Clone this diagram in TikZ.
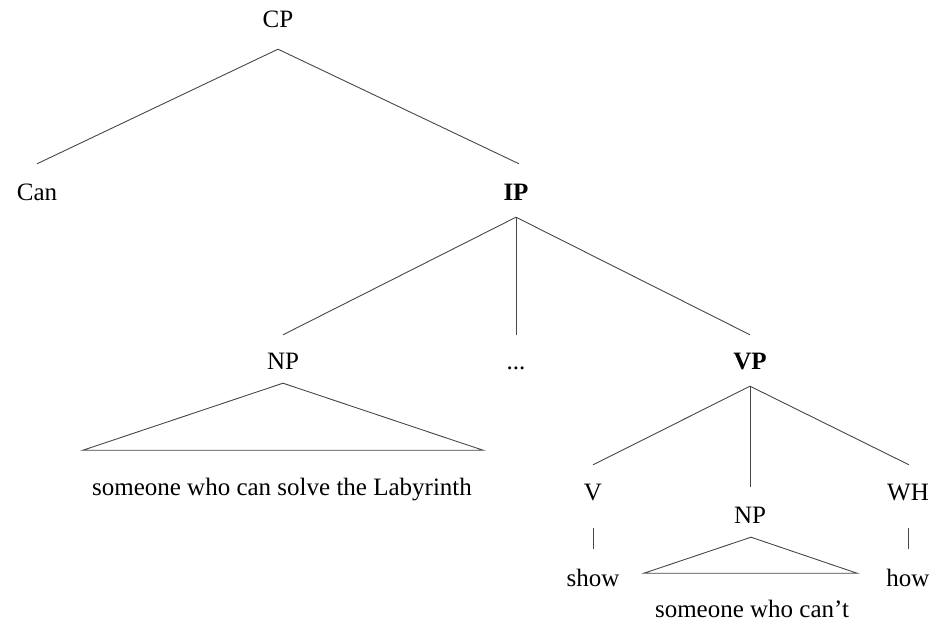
\documentclass[tikz,border=0pt]{standalone}
\usepackage{fontspec}
\setmainfont{Liberation Serif}
\begin{document}
\begin{tikzpicture}[x=1pt,y=-1pt,
  lbl/.style={inner sep=0pt, anchor=base, text height=18pt, text depth=5pt, font=\fontsize{25}{30}\selectfont},
  branch/.style={draw=black!72, line width=0.9pt, line join=miter}]
\useasboundingbox (0,0) rectangle (947,623);
% nodes (x, baseline)
\node[lbl] (CP)  at (278,28)  {CP};
\node[lbl] (Can) at (37,200)  {Can};
\node[lbl] (IP)  at (516,200) {\textbf{IP}};
\node[lbl] (NP1) at (283,369) {NP};
\node[lbl] (dots) at (516,369) {...};
\node[lbl] (VP)  at (750,369) {\textbf{VP}};
\node[lbl] (txt1) at (282,495) {someone who can solve the Labyrinth};
\node[lbl] (V)   at (593,500) {V};
\node[lbl] (NP2) at (750,523) {NP};
\node[lbl] (WH)  at (908,500) {WH};
\node[lbl] (show) at (593,586) {show};
\node[lbl] (how)  at (908,586) {how};
\node[lbl] (txt2) at (752,617) {someone who can’t};
% branches
\draw[branch] ([yshift=-16pt]CP.south) -- ([yshift=18pt]Can.north);
\draw[branch] ([yshift=-16pt]CP.south) -- ([xshift=3pt,yshift=18pt]IP.north);
\draw[branch] ([yshift=-12pt]IP.south) -- ([yshift=16pt]NP1.north);
\draw[branch] ([yshift=-12pt]IP.south) -- ([yshift=16pt]dots.north);
\draw[branch] ([yshift=-12pt]IP.south) -- ([yshift=16pt]VP.north);
\draw[branch] ([yshift=-12pt]VP.south) -- ([yshift=17pt]V.north);
\draw[branch] ([yshift=-12pt]VP.south) -- ([yshift=18pt]NP2.north);
\draw[branch] ([yshift=-12pt]VP.south) -- ([xshift=1pt,yshift=17pt]WH.north);
\draw[branch] ([yshift=-23pt]V.south) -- ([yshift=19pt]show.north);
\draw[branch] ([yshift=-23pt]WH.south) -- ([yshift=19pt]how.north);
% triangles
\draw[branch] ([yshift=-9pt]NP1.south) -- ([xshift=-200pt,yshift=-76pt]NP1.south) -- ([xshift=200pt,yshift=-76pt]NP1.south) -- cycle;
\draw[branch] ([xshift=1pt,yshift=-9pt]NP2.south) -- ([xshift=-106pt,yshift=-45pt]NP2.south) -- ([xshift=107pt,yshift=-45pt]NP2.south) -- cycle;
\end{tikzpicture}
\end{document}
